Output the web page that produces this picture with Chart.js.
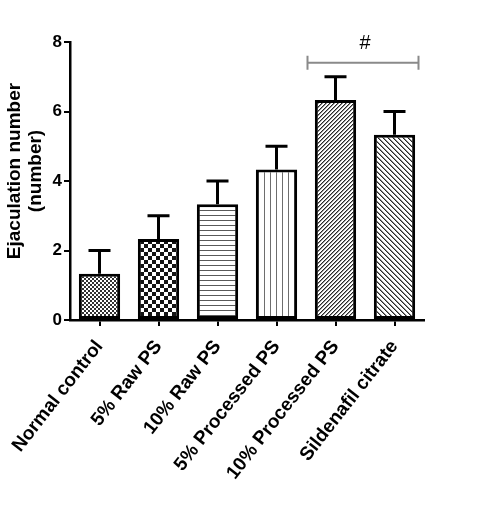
<!DOCTYPE html>
<html>
<head>
<meta charset="utf-8">
<script src="https://cdn.jsdelivr.net/npm/chart.js@4/dist/chart.umd.min.js"></script>
<style>
  html, body { margin: 0; padding: 0; background: #fff; }
  #wrap { width: 490px; height: 517px; }
</style>
</head>
<body>
<div id="wrap"><canvas id="grafico"></canvas></div>
<script>
// === DADOS ===
const grupos = ['Normal control', '5% Raw PS', '10% Raw PS', '5% Processed PS', '10% Processed PS', 'Sildenafil citrate'];
const medias = [1.33, 2.33, 3.33, 4.33, 6.33, 5.33];
const erros = [0.67, 0.67, 0.67, 0.67, 0.67, 0.67];
const yTicks = [0, 2, 4, 6, 8];
const tituloY = ['Ejaculation number', '(number)'];
const marca = '#';
const marcaDe = 4, marcaAte = 5, marcaValor = 7.4;

const ctx = document.getElementById('grafico').getContext('2d');
const fonte = '"Liberation Sans", Arial, sans-serif';

// === PADROES ===
function padrao(w, h, fn) {
  const c = document.createElement('canvas');
  c.width = w; c.height = h;
  const g = c.getContext('2d');
  const img = g.createImageData(w, h);
  for (let y = 0; y < h; y++) {
    for (let x = 0; x < w; x++) {
      const v = fn(x, y);
      const i = (y * w + x) * 4;
      img.data[i] = img.data[i + 1] = img.data[i + 2] = v;
      img.data[i + 3] = 255;
    }
  }
  g.putImageData(img, 0, 0);
  return ctx.createPattern(c, 'repeat');
}

const padroes = [
  padrao(4, 4, (x, y) => (((x >> 1) + (y >> 1)) & 1) ? 50 : 255),
  padrao(8, 8, (x, y) => (((x >> 2) + (y >> 2)) & 1) ? 20 : 255),
  padrao(5, 5, (x, y) => (y % 5 === 0) ? 90 : 255),
  padrao(6, 6, (x, y) => (x % 6 === 0) ? 110 : 255),
  padrao(4, 4, (x, y) => { const k = (x + y) % 4; return k === 0 ? 40 : (k === 1 ? 150 : 255); }),
  padrao(5, 5, (x, y) => { const k = (x - y + 50) % 5; return k === 0 ? 40 : (k === 1 ? 140 : 255); })
];

// === PLUGINS ===
const barrasErro = {
  id: 'barrasErro',
  afterDatasetsDraw(chart) {
    const c = chart.ctx;
    const ys = chart.scales.y;
    const meta = chart.getDatasetMeta(0);
    c.save();
    c.strokeStyle = '#000';
    c.lineWidth = 3;
    meta.data.forEach((bar, i) => {
      const topo = ys.getPixelForValue(medias[i] + erros[i]);
      c.beginPath();
      c.moveTo(bar.x, bar.y);
      c.lineTo(bar.x, topo);
      c.moveTo(bar.x - 11, topo);
      c.lineTo(bar.x + 11, topo);
      c.stroke();
    });
    c.restore();
  }
};

const colchete = {
  id: 'colchete',
  afterDraw(chart) {
    const c = chart.ctx;
    const ys = chart.scales.y;
    const meta = chart.getDatasetMeta(0);
    const x1 = meta.data[marcaDe].x - 28;
    const x2 = meta.data[marcaAte].x + 24;
    const y = ys.getPixelForValue(marcaValor);
    c.save();
    c.strokeStyle = '#8a8a8a';
    c.lineWidth = 2;
    c.beginPath();
    c.moveTo(x1, y); c.lineTo(x2, y);
    c.moveTo(x1, y - 7); c.lineTo(x1, y + 7);
    c.moveTo(x2, y - 7); c.lineTo(x2, y + 7);
    c.stroke();
    c.fillStyle = '#000';
    c.font = '20px ' + fonte;
    c.textAlign = 'center';
    c.textBaseline = 'middle';
    c.fillText(marca, (x1 + x2) / 2 + 2, y - 19);
    c.restore();
  }
};

const tituloEixoY = {
  id: 'tituloEixoY',
  afterDraw(chart) {
    const c = chart.ctx;
    const area = chart.chartArea;
    const meio = (area.top + area.bottom) / 2 - 10;
    c.save();
    c.fillStyle = '#000';
    c.font = 'bold 19px ' + fonte;
    c.textAlign = 'center';
    c.textBaseline = 'middle';
    c.translate(15, meio);
    c.rotate(-Math.PI / 2);
    c.fillText(tituloY[0], 0, 0);
    c.fillText(tituloY[1], 0, 21);
    c.restore();
  }
};

// === GRAFICO ===
new Chart(ctx, {
  type: 'bar',
  data: {
    labels: grupos,
    datasets: [{
      data: medias,
      backgroundColor: padroes,
      borderColor: '#000',
      borderWidth: 3,
      borderSkipped: false,
      barPercentage: 0.7,
      categoryPercentage: 1
    }]
  },
  options: {
    responsive: true,
    maintainAspectRatio: false,
    animation: false,
    layout: { padding: { left: 0, right: 66, top: 42, bottom: 0 } },
    plugins: {
      legend: { display: false },
      tooltip: { enabled: false }
    },
    scales: {
      x: {
        afterFit(s) { s.height = 197; },
        grid: { offset: false, drawOnChartArea: false, tickLength: 6, color: '#000', lineWidth: 2 },
        border: { color: '#000', width: 2.5 },
        ticks: {
          color: '#000',
          maxRotation: 52,
          minRotation: 52,
          padding: 10,
          font: { family: fonte, size: 19, weight: 'bold' }
        }
      },
      y: {
        min: 0,
        max: 8,
        afterFit(s) { s.width = 70; },
        afterBuildTicks(s) { s.ticks = yTicks.map(v => ({ value: v })); },
        grid: { drawOnChartArea: false, tickLength: 6, color: '#000', lineWidth: 2 },
        border: { color: '#000', width: 2.5 },
        ticks: {
          color: '#000',
          padding: 2,
          font: { family: fonte, size: 17, weight: 'bold' }
        }
      }
    }
  },
  plugins: [barrasErro, colchete, tituloEixoY]
});
</script>
</body>
</html>
